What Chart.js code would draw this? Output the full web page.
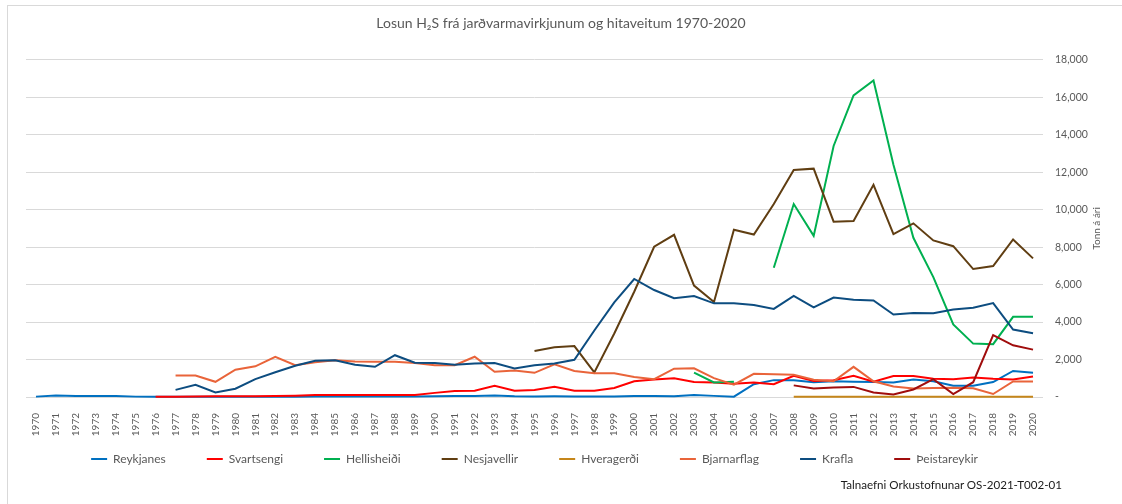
<!DOCTYPE html>
<html>
<head>
<meta charset="utf-8">
<script src="https://cdn.jsdelivr.net/npm/chart.js@4.4.0/dist/chart.umd.min.js"></script>
<style>
  html, body { margin: 0; padding: 0; background: #fff; overflow: hidden; }
  #wrap { position: relative; width: 1122px; height: 504px; overflow: hidden; }
  #frame { position: absolute; left: 7px; top: 5px; width: 1200px; height: 600px; border: 1px solid #d9d9d9; }
  #chart { position: absolute; left: 0; top: 0; }
  #source { position: absolute; right: 60px; top: 478px; font: 11.6px Lato, "Open Sans", sans-serif; color: #1a1a1a; white-space: nowrap; }
</style>
</head>
<body>
<div id="wrap">
  <div id="frame"></div>
  <canvas id="chart" width="1122" height="504"></canvas>
  <div id="source">Talnaefni Orkustofnunar OS-2021-T002-01</div>
</div>
<script>
// ar 1970-2020
var years = ["1970","1971","1972","1973","1974","1975","1976","1977","1978","1979",
  "1980","1981","1982","1983","1984","1985","1986","1987","1988","1989",
  "1990","1991","1992","1993","1994","1995","1996","1997","1998","1999",
  "2000","2001","2002","2003","2004","2005","2006","2007","2008","2009",
  "2010","2011","2012","2013","2014","2015","2016","2017","2018","2019","2020"];

var reykjanes = [20, 80, 60, 60, 50, 20, 10, 10, 10, 10,
  10, 10, 10, 20, 30, 30, 30, 30, 30, 30,
  40, 50, 60, 80, 40, 30, 40, 30, 30, 30,
  60, 50, 40, 110, 60, 20, 680, 900, 890, 790,
  840, 810, 800, 770, 940, 840, 600, 600, 800, 1390, 1290];

var svartsengi = [null, null, null, null, null, null, 10, 20, 30, 40,
  40, 40, 50, 70, 110, 110, 110, 110, 110, 110,
  220, 320, 340, 600, 340, 370, 540, 340, 340, 480,
  840, 930, 1000, 800, 780, 710, 780, 680, 1130, 860,
  890, 1130, 820, 1120, 1120, 970, 950, 1040, 970, 940, 1100];

var hellisheidi = [null, null, null, null, null, null, null, null, null, null,
  null, null, null, null, null, null, null, null, null, null,
  null, null, null, null, null, null, null, null, null, null,
  null, null, null, 1300, 780, 820, null, 6900, 10300, 8600,
  13400, 16100, 16900, 12400, 8500, 6400, 3870, 2850, 2820, 4280, 4280];

var nesjavellir = [null, null, null, null, null, null, null, null, null, null,
  null, null, null, null, null, null, null, null, null, null,
  null, null, null, null, null, 2460, 2650, 2720, 1310, 3390,
  5620, 8020, 8660, 5950, 5070, 8930, 8670, 10300, 12120, 12190,
  9360, 9390, 11330, 8700, 9270, 8360, 8050, 6830, 6990, 8410, 7400];

var hveragerdi = [null, null, null, null, null, null, null, null, null, null,
  null, null, null, null, null, null, null, null, null, null,
  null, null, null, null, null, null, null, null, null, null,
  null, null, null, null, null, null, null, null, 15, 15,
  15, 15, 15, 15, 15, 15, 15, 15, 15, 15, 15];

var bjarnarflag = [null, null, null, null, null, null, null, 1150, 1150, 810,
  1460, 1640, 2150, 1700, 1860, 1960, 1890, 1880, 1880, 1810,
  1690, 1700, 2150, 1350, 1410, 1290, 1750, 1390, 1270, 1270,
  1070, 950, 1510, 1530, 1010, 660, 1240, 1210, 1190, 920,
  840, 1610, 840, 560, 460, 480, 500, 470, 160, 830, 830];

var krafla = [null, null, null, null, null, null, null, 380, 650, 240,
  440, 955, 1320, 1670, 1940, 1960, 1720, 1610, 2230, 1830,
  1810, 1720, 1790, 1810, 1520, 1690, 1790, 1990, 3550, 5050,
  6300, 5710, 5270, 5390, 5000, 5000, 4910, 4700, 5400, 4780,
  5310, 5190, 5150, 4400, 4490, 4470, 4670, 4760, 5010, 3600, 3400];

var theistareykir = [null, null, null, null, null, null, null, null, null, null,
  null, null, null, null, null, null, null, null, null, null,
  null, null, null, null, null, null, null, null, null, null,
  null, null, null, null, null, null, null, null, 620, 450,
  510, 540, 240, 140, 400, 950, 160, 790, 3300, 2760, 2530];

var seriesNames = ["Reykjanes", "Svartsengi", "Hellisheiði", "Nesjavellir", "Hveragerði", "Bjarnarflag", "Krafla", "Þeistareykir"];
var seriesData = [reykjanes, svartsengi, hellisheidi, nesjavellir, hveragerdi, bjarnarflag, krafla, theistareykir];
var seriesColors = ["#0070C0", "#FF0000", "#00B050", "#603E12", "#C5861A", "#E9643A", "#0D4D80", "#A00D0D"];

var chartTitle = "Losun H₂S frá jarðvarmavirkjunum og hitaveitum 1970-2020";
var yAxisTitle = "Tonn á ári";
var fontFamily = 'Lato, "Open Sans", sans-serif';
var textColor = "#595959";

document.addEventListener("DOMContentLoaded", function () {
  var datasets = seriesNames.map(function (name, i) {
    return {
      label: name,
      data: seriesData[i],
      borderColor: seriesColors[i],
      backgroundColor: seriesColors[i],
      borderWidth: 2,
      pointRadius: 0,
      tension: 0,
      spanGaps: false,
      order: seriesNames.length - i
    };
  });

  // axis title reads bottom-to-top on the right side
  var yTitlePlugin = {
    id: "yTitle",
    afterDraw: function (chart) {
      var ctx = chart.ctx;
      var area = chart.chartArea;
      ctx.save();
      ctx.translate(chart.scales.y.left + 54, (area.top + area.bottom) / 2);
      ctx.rotate(-Math.PI / 2);
      ctx.font = "10px " + fontFamily;
      ctx.fillStyle = textColor;
      ctx.textAlign = "center";
      ctx.textBaseline = "middle";
      ctx.fillText(yAxisTitle, 0, 0);
      ctx.restore();
    }
  };

  // legend padding is wide sideways, so pull the box up a bit
  var legendShift = {
    id: "legendShift",
    afterLayout: function (chart) {
      var lg = chart.legend;
      lg.top -= 25; lg.bottom -= 25;
    }
  };

  new Chart(document.getElementById("chart"), {
    type: "line",
    data: { labels: years, datasets: datasets },
    plugins: [yTitlePlugin, legendShift],
    options: {
      responsive: false,
      animation: false,
      devicePixelRatio: 1,
      layout: { padding: { top: 0, bottom: 4, left: 0, right: 0 } },
      plugins: {
        tooltip: { enabled: false },
        title: {
          display: true,
          text: chartTitle,
          color: textColor,
          font: { family: fontFamily, size: 14, weight: "normal" },
          padding: { top: 15, bottom: 28 }
        },
        legend: {
          position: "bottom",
          fullSize: false,
          labels: {
            boxWidth: 16,
            boxHeight: 2,
            padding: 41,
            color: textColor,
            font: { family: fontFamily, size: 12 },
            sort: function (a, b) { return a.datasetIndex - b.datasetIndex; },
            generateLabels: function (chart) {
              return Chart.defaults.plugins.legend.labels.generateLabels(chart).map(function (item) {
                item.lineWidth = 0;
                return item;
              });
            }
          }
        }
      },
      scales: {
        x: {
          offset: true,
          grid: { display: false },
          border: { display: false },
          ticks: {
            autoSkip: false,
            minRotation: 90,
            maxRotation: 90,
            padding: 8,
            color: textColor,
            font: { family: fontFamily, size: 10 }
          },
          afterFit: function (scale) { scale.height = 40; }
        },
        yl: {
          position: "left",
          grid: { display: false },
          border: { display: false },
          ticks: { display: false },
          afterFit: function (scale) { scale.width = 26; }
        },
        y: {
          position: "right",
          min: 0,
          max: 18000,
          grid: { color: "#d9d9d9", drawTicks: false },
          border: { display: false },
          ticks: {
            stepSize: 2000,
            padding: 12,
            color: textColor,
            font: { family: fontFamily, size: 10.5 },
            callback: function (v) { return v === 0 ? "-" : v.toLocaleString("en-US"); }
          },
          afterFit: function (scale) { scale.width = 79; }
        }
      }
    }
  });
});
</script>
</body>
</html>
